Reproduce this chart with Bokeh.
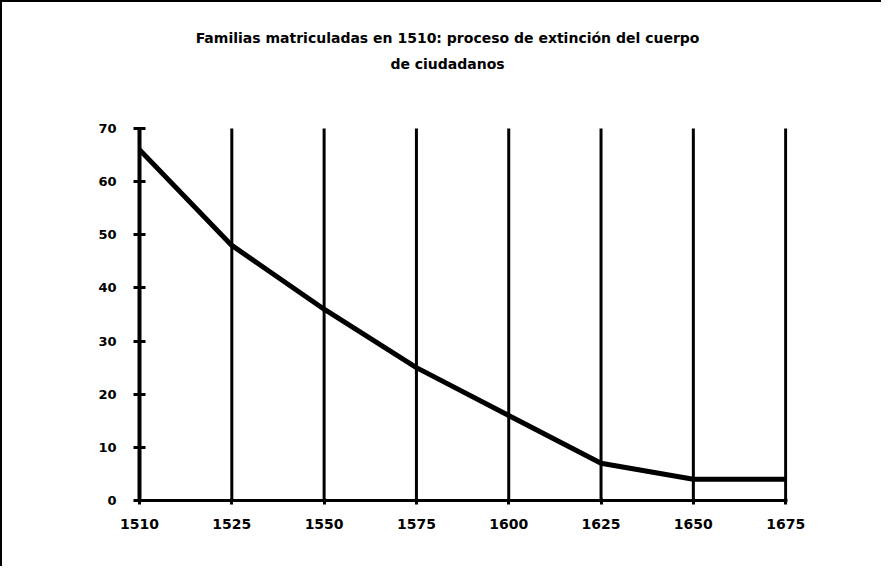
from bokeh.plotting import figure
from bokeh.models import FixedTicker, Range1d, Label
from bokeh.embed import file_html
from bokeh.resources import INLINE

years = ["1510", "1525", "1550", "1575", "1600", "1625", "1650", "1675"]
families = [66, 48, 36, 25, 16, 7, 4, 4]
y_ticks = [0, 10, 20, 30, 40, 50, 60, 70]
title_lines = ["Familias matriculadas en 1510: proceso de extinción del cuerpo",
               "de ciudadanos"]

xs = list(range(len(years)))
y_lo, y_hi = y_ticks[0], y_ticks[-1]

# the frame extends upward to hold the title; axis is bounded to 0..70
Y_TOP = 91.83

p = figure(width=881, height=566, output_backend="svg", toolbar_location=None,
           x_range=Range1d(0, 7.02), y_range=Range1d(0, Y_TOP),
           min_border_left=137, min_border_right=96, min_border_top=10,
           min_border_bottom=68)
p.styles = {"border-top": "2px solid black", "border-left": "2px solid black"}
p.outline_line_color = None
p.background_fill_color = "white"

FONT = "DejaVu Sans"

# x axis
p.xaxis.ticker = FixedTicker(ticks=xs)
p.xaxis.major_label_overrides = {i: y for i, y in zip(xs, years)}
p.xaxis.axis_line_width = 3
p.xaxis.axis_line_color = "black"
p.xaxis.major_tick_in = 2
p.xaxis.major_tick_out = 4
p.xaxis.major_tick_line_width = 3
p.xaxis.minor_tick_line_color = None
p.xaxis.major_label_standoff = 14
p.xaxis.major_label_text_font = FONT
p.xaxis.major_label_text_font_style = "bold"
p.xaxis.major_label_text_font_size = "14px"
p.xaxis.major_label_text_color = "black"

# y axis
p.yaxis.ticker = FixedTicker(ticks=y_ticks)
p.yaxis.bounds = (y_lo, y_hi)
p.yaxis.axis_line_width = 4
p.yaxis.axis_line_color = "black"
p.yaxis.major_tick_in = 6
p.yaxis.major_tick_out = 6
p.yaxis.major_tick_line_width = 3
p.yaxis.minor_tick_line_color = None
p.yaxis.major_label_standoff = 17
p.yaxis.major_label_text_font = FONT
p.yaxis.major_label_text_font_style = "bold"
p.yaxis.major_label_text_font_size = "13px"
p.yaxis.major_label_text_color = "black"

p.xgrid.grid_line_color = None
p.ygrid.grid_line_color = None

# vertical black rules at each year, from 0 to 70
p.segment(x0=xs, y0=[y_lo] * len(xs), x1=xs, y1=[y_hi] * len(xs),
          line_color="black", line_width=3)

p.line(xs, families, line_color="black", line_width=5, line_join="round")

for txt, yy in zip(title_lines, [86.94, 82.23]):
    p.add_layout(Label(x=3.337, y=yy, text=txt, text_align="center",
                       text_baseline="middle", text_font=FONT,
                       text_font_style="bold", text_font_size="14px",
                       text_color="black"))

open("out.html", "w").write(file_html(p, INLINE))
